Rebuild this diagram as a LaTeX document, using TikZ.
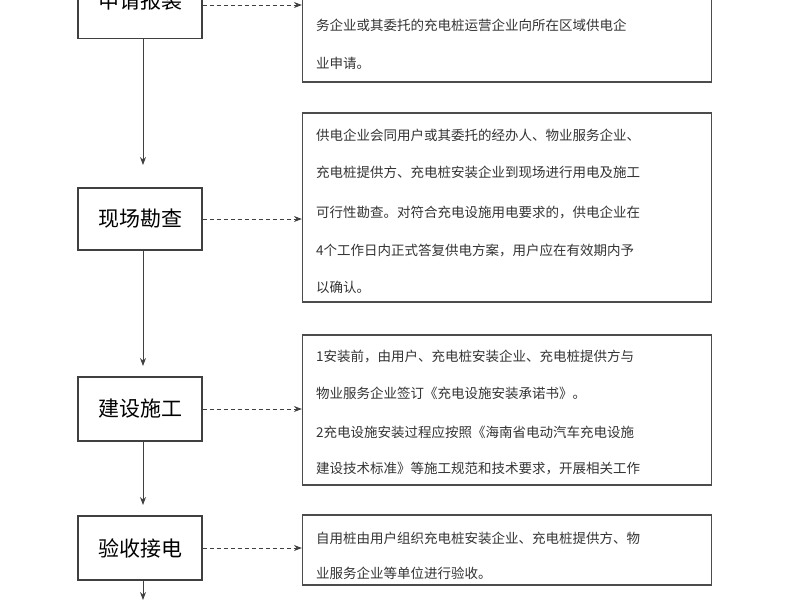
\documentclass[tikz,border=0pt]{standalone}
\usepackage{fontspec}
\newfontfamily\cjk{Noto Sans CJK SC}
\usetikzlibrary{arrows.meta}
\begin{document}
\begin{tikzpicture}[x=1pt,y=-1pt,
  stepbox/.style={draw=black!75,line width=1.2pt,minimum width=124pt,inner sep=0pt,font=\cjk\fontsize{21}{24}\selectfont},
  desc/.style={draw=black!70,line width=1.2pt,inner sep=0pt},
  txt/.style={anchor=west,inner sep=0pt,font=\cjk\fontsize{13.5}{16}\selectfont,text=black!80},
  flow/.style={-{Stealth[length=8pt,width=6pt]},black!75,line width=1pt},
  dasharrow/.style={-{Stealth[length=8pt,width=6pt]},black!75,line width=1pt,dash pattern=on 4pt off 3pt}]
\useasboundingbox (0,0) rectangle (800,600);
\clip (0,0) rectangle (800,600);
% left steps
\node[stepbox,minimum height=75pt] (s1) at (140,1) {申请报装};
\node[stepbox,minimum height=62pt] (s2) at (140,219) {现场勘查};
\node[stepbox,minimum height=64pt] (s3) at (140,409) {建设施工};
\node[stepbox,minimum height=64pt] (s4) at (140,548) {验收接电};
\coordinate (s5) at (143,600);
% right boxes
\node[desc,minimum width=409pt,minimum height=120pt] (d1) at (507,22) {};
\node[desc,minimum width=409pt,minimum height=189pt] (d2) at (507,207.5) {};
\node[desc,minimum width=409pt,minimum height=150pt] (d3) at (507,410) {};
\node[desc,minimum width=409pt,minimum height=70pt] (d4) at (507,550) {};
% texts
\node[txt] (t1a) at (316,25) {务企业或其委托的充电桩运营企业向所在区域供电企};
\node[txt] (t1b) at (316,63) {业申请。};
\node[txt] (t2a) at (316,135) {供电企业会同用户或其委托的经办人、物业服务企业、};
\node[txt] (t2b) at (316,172) {充电桩提供方、充电桩安装企业到现场进行用电及施工};
\node[txt] (t2c) at (316,212) {可行性勘查。对符合充电设施用电要求的，供电企业在};
\node[txt] (t2d) at (316,250) {4个工作日内正式答复供电方案，用户应在有效期内予};
\node[txt] (t2e) at (316,287) {以确认。};
\node[txt] (t3a) at (316,356) {1安装前，由用户、充电桩安装企业、充电桩提供方与};
\node[txt] (t3b) at (316,393) {物业服务企业签订《充电设施安装承诺书》。};
\node[txt] (t3c) at (316,432) {2充电设施安装过程应按照《海南省电动汽车充电设施};
\node[txt] (t3d) at (316,469) {建设技术标准》等施工规范和技术要求，开展相关工作};
\node[txt] (t4a) at (316,538) {自用桩由用户组织充电桩安装企业、充电桩提供方、物};
\node[txt] (t4b) at (316,573) {业服务企业等单位进行验收。};
% connectors
\draw[flow] (s1.south) ++(3,0) coordinate (c1) -- (c1 |- 0,165) coordinate (e1);
\draw[flow] (s2.south) ++(3,0) coordinate (c2) -- (c2 |- 0,366);
\draw[flow] (s3.south) ++(3,0) coordinate (c3) -- (c3 |- 0,505);
\draw[flow] (s4.south) ++(3,0) coordinate (c4) -- (s5);
\draw[dasharrow] (s1.east |- 0,5) -- (d1.west |- 0,5);
\draw[dasharrow] (s2.east) -- (d2.west |- s2.east);
\draw[dasharrow] (s3.east) -- (d3.west |- s3.east);
\draw[dasharrow] (s4.east) -- (d4.west |- s4.east);
\end{tikzpicture}
\end{document}
